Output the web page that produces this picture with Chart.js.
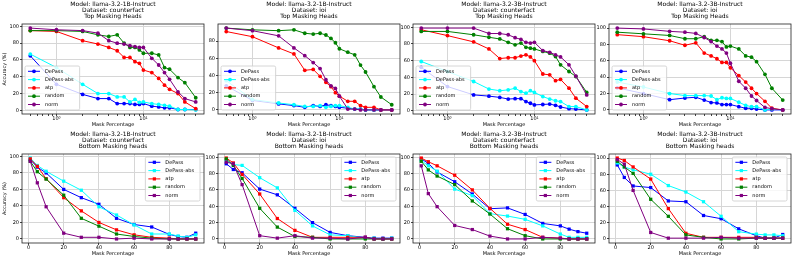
<!DOCTYPE html>
<html>
<head>
<meta charset="utf-8">
<script src="https://cdn.jsdelivr.net/npm/chart.js@4.4.0/dist/chart.umd.min.js"></script>
<style>
  html, body { margin: 0; padding: 0; background: #fff; overflow: hidden; }
  #wrap { position: relative; width: 793px; height: 259px; }
  #wrap canvas { position: absolute; }
</style>
</head>
<body>
<div id="wrap"></div>
<script>
// mask percentages
const topX = [0.5, 1, 2, 3, 4, 5, 6, 7, 8, 9, 10, 12.5, 15, 17.5, 20, 25, 30, 40];
const bottomX = [1, 5, 10, 20, 30, 40, 50, 60, 70, 80, 85, 90, 95];

const methods = ['DePass', 'DePass-abs', 'atp', 'random', 'norm'];
const colors = ['#0000ff', '#00ffff', '#ff0000', '#008000', '#800080'];
const models = ['llama-3.2-1B-Instruct', 'llama-3.2-1B-Instruct', 'llama-3.2-3B-Instruct', 'llama-3.2-3B-Instruct'];
const datasetNames = ['counterfact', 'ioi', 'counterfact', 'ioi'];

const yTicks = [0, 20, 40, 60, 80, 100];
const topTickLabels = { 1: '10\u2070', 10: '10\u00b9' };
const bottomTicks = [0, 20, 40, 60, 80];

// accuracy (%), one row per method (DePass, DePass-abs, atp, random, norm)
const top1bCf = [
  [65, 31, 19, 14, 14, 8, 8, 8, 7, 7, 8, 5, 4, 3, 3, 1, 1, 1],
  [67, 51, 31, 20, 20, 16, 16, 10, 13, 9.5, 10, 8, 7, 6, 5, 1, 1, 0.5],
  [95, 94, 83, 79, 75, 71, 63, 63, 58, 56, 48, 45, 38, 30, 25, 20, 10, 2],
  [95, 95, 94, 90, 88, 90, 80, 75, 75, 72, 68, 68, 66, 51, 49, 39, 33, 15],
  [98, 96, 95, 92, 83, 80, 79, 77, 76, 75, 75, 62, 54, 45, 37, 22, 14, 10]
];
const top1bIoi = [
  [28, 11, 7, 5, 3, 5, 4, 6, 5, 4, 3, 2, 1, 1, 0, 0, 0, 0],
  [34, 12, 8, 6, 4, 4, 5, 3, 4, 5, 5, 3, 1, 1, 0, 0, 0, 0],
  [91, 85, 72, 65, 46, 47, 39, 32, 27, 20, 16, 10, 10, 5, 3, 3, 0, 0],
  [95, 93, 92, 93, 89, 88, 89, 87, 83, 78, 71, 67, 64, 52, 44, 27, 15, 6],
  [95, 92, 86, 72, 63, 55, 48, 35, 28, 25, 16, 1, 1, 0, 0, 0, 0, 0]
];
const top3bCf = [
  [52, 29, 19, 17.5, 16, 14, 14.5, 14.5, 11, 9, 7, 7.5, 8, 6.5, 4.5, 2.5, 2, 1],
  [59, 47, 35, 26, 24, 25, 27, 23, 21, 24, 22, 17, 14, 12, 11, 5, 5, 1],
  [97, 90, 82.5, 74, 62.5, 63.5, 63.5, 65.5, 67, 64.5, 60, 44, 43, 36, 37.5, 27, 15, 5],
  [95, 95, 91, 88, 86, 82, 79, 81, 76, 75, 74, 71, 69, 65, 55, 47, 41, 22],
  [99, 99, 99, 92.5, 92.5, 91, 87.5, 85.5, 82, 81, 82, 72, 70, 67, 64.5, 55, 41.5, 19]
];
const top3bIoi = [
  [27, 20, 12.5, 14.5, 15.5, 12, 9, 8.5, 6.5, 6.5, 6.5, 4, 2, 2, 1, 0, 0, 0],
  [34, 28, 20, 17.5, 17.5, 17.5, 17, 12.5, 15, 14, 14, 9.5, 5.5, 4, 4, 0, 1, 0],
  [92, 89.5, 84.5, 79, 82, 69.5, 66, 62.5, 58, 58, 51.5, 42, 34, 26.5, 20, 10.5, 2, 0],
  [95, 93, 91, 87, 87, 89.5, 85, 85, 83.5, 77, 78, 74.5, 66, 64.5, 59, 43.5, 26.5, 12],
  [100, 99, 96, 95, 93.5, 88.5, 83.5, 78, 74.5, 69.5, 57, 35, 26.5, 17, 11.5, 3, 1.5, 0]
];
const bottom1bCf = [
  [96, 87, 80, 60, 50, 42, 25, 17.5, 14.5, 5.5, 3, 2, 7],
  [98, 89, 82, 70, 59, 39, 29, 17, 6, 6, 3.5, 2, 5],
  [97, 88, 73, 50, 34, 20, 11, 5, 2, 1, 0, 0, 0],
  [94, 81.5, 72.5, 53, 25, 15.5, 6, 3, 1, 0, 0, 0, 0],
  [94, 68, 39, 7, 2, 2, 0, 1, 0, 0, 0, 0, 0]
];
const bottom1bIoi = [
  [92, 85, 81, 61, 54, 37.5, 20, 8, 4, 2, 1, 1, 1],
  [96, 91, 90, 75, 62.5, 35, 16, 5, 4, 1, 1, 0, 1],
  [99, 93, 79, 55, 25, 10.5, 2, 2, 2, 2, 0, 0, 0],
  [98, 90, 74, 37.5, 14.5, 3, 2, 0, 0, 0, 0, 0, 0],
  [94, 92, 66.5, 4, 1, 4, 1, 1, 0, 2, 0, 0, 0]
];
const bottom3bCf = [
  [98, 92.5, 82, 70, 55, 37, 38, 30, 19, 16, 12, 9, 7],
  [96, 89.5, 83, 61, 53, 31, 28, 24, 16, 6, 2, 2, 2],
  [99, 94.5, 89.5, 78, 60, 37.5, 18, 11.5, 2, 1, 0, 0, 0],
  [95, 84.5, 77, 66.5, 46.5, 30.5, 12.5, 4, 0, 0, 0, 0, 0],
  [89.5, 55.5, 39.5, 16.5, 11.5, 3.5, 0, 0, 2, 1, 0, 0, 0]
];
const bottom3bIoi = [
  [91.5, 76, 65.5, 63.5, 47, 46, 29, 25, 12.5, 4, 1, 1, 5.5],
  [94, 89, 85.5, 80, 66, 58, 46, 28, 9, 6, 5, 5, 4],
  [100, 97, 89, 74, 37.5, 7, 2, 2, 2, 2, 1, 1, 1],
  [96, 89, 81, 49, 28, 5, 2, 0, 0, 1, 1, 1, 1],
  [98, 92.5, 60, 8, 1, 1, 1, 2, 1, 1, 1, 1, 1]
];

const topPanels = [top1bCf, top1bIoi, top3bCf, top3bIoi];
const bottomPanels = [bottom1bCf, bottom1bIoi, bottom3bCf, bottom3bIoi];

// layout
const plotLefts = [22, 218, 413, 609];
const plotW = 182;
const axisW = 22;
const rightPad = 4;
const FONT = 'DejaVu Sans';
const gridColor = '#d6d6d6';

Chart.defaults.font.family = FONT;

// frame, 3-line title and matplotlib-like legend
const decor = {
  id: 'decor',
  afterDraw(chart, args, o) {
    const { ctx, chartArea: a } = chart;
    ctx.save();
    ctx.strokeStyle = '#222';
    ctx.lineWidth = 0.8;
    ctx.strokeRect(a.left, a.top, a.right - a.left, a.bottom - a.top);

    ctx.fillStyle = '#000';
    ctx.font = '6px "' + FONT + '"';
    ctx.textAlign = 'center';
    ctx.textBaseline = 'middle';
    const cx = (a.left + a.right) / 2;
    const n = o.title.length;
    for (let i = 0; i < n; i++) {
      ctx.fillText(o.title[i], cx, a.top - 7.6 - (n - 1 - i) * 6.2);
    }

    ctx.font = '5px "' + FONT + '"';
    const items = chart.data.datasets;
    const tw = Math.max(...items.map(d => ctx.measureText(d.label).width));
    const w = 20 + tw + 6, h = 44;
    const x = o.lowerLeft ? a.left + 3 : a.right - 4 - w;
    const y = o.lowerLeft ? a.bottom - 4 - h : a.top + 3;
    ctx.beginPath();
    ctx.roundRect(x, y, w, h, 1.5);
    ctx.fillStyle = 'rgba(255,255,255,0.8)';
    ctx.fill();
    ctx.strokeStyle = '#cccccc';
    ctx.lineWidth = 0.8;
    ctx.stroke();
    ctx.textAlign = 'left';
    items.forEach((d, i) => {
      const yy = y + 5.3 + i * 8.3;
      ctx.strokeStyle = d.borderColor;
      ctx.lineWidth = 1;
      ctx.beginPath();
      ctx.moveTo(x + 3, yy);
      ctx.lineTo(x + 15, yy);
      ctx.stroke();
      ctx.fillStyle = d.borderColor;
      if (d.pointStyle === 'rect') {
        ctx.fillRect(x + 9 - 1.6, yy - 1.6, 3.2, 3.2);
      } else {
        ctx.beginPath();
        ctx.arc(x + 9, yy, 1.9, 0, Math.PI * 2);
        ctx.fill();
      }
      ctx.fillStyle = '#000';
      ctx.fillText(d.label, x + 20, yy);
    });
    ctx.restore();
  }
};

function padRange(lo, hi) {
  const span = hi - lo;
  return [lo - 0.05 * span, hi + 0.05 * span];
}

function addPanel(row, col) {
  const isTop = row === 0;
  const xs = isTop ? topX : bottomX;
  const rows = (isTop ? topPanels : bottomPanels)[col];

  const canvas = document.createElement('canvas');
  canvas.width = axisW + plotW + rightPad;
  canvas.height = 130;
  canvas.style.left = (plotLefts[col] - axisW) + 'px';
  canvas.style.top = (isTop ? 0 : 129) + 'px';
  canvas.style.width = canvas.width + 'px';
  canvas.style.height = canvas.height + 'px';
  document.getElementById('wrap').appendChild(canvas);

  const all = rows.flat();
  const [yMin, yMax] = padRange(Math.min(...all), Math.max(...all));
  let xMin, xMax;
  if (isTop) {
    const [l0, l1] = padRange(Math.log10(Math.min(...xs)), Math.log10(Math.max(...xs)));
    xMin = Math.pow(10, l0);
    xMax = Math.pow(10, l1);
  } else {
    [xMin, xMax] = padRange(Math.min(...xs), Math.max(...xs));
  }

  const datasets = rows.map((vals, i) => ({
    label: methods[i],
    data: xs.map((x, j) => ({ x, y: vals[j] })),
    borderColor: colors[i],
    backgroundColor: colors[i],
    pointBackgroundColor: colors[i],
    borderWidth: 1,
    pointStyle: isTop ? 'circle' : 'rect',
    pointRadius: isTop ? 1.9 : 2.3,
    pointBorderWidth: 0,
    tension: 0,
    order: methods.length - i
  }));

  const tickFont = { size: 5, family: FONT };

  new Chart(canvas, {
    type: 'line',
    data: { datasets },
    plugins: [decor],
    options: {
      responsive: false,
      animation: false,
      devicePixelRatio: 1,
      layout: { padding: { top: isTop ? 24 : 25, right: rightPad, left: 0, bottom: 0 } },
      plugins: {
        legend: { display: false },
        tooltip: { enabled: false },
        decor: {
          title: ['Model: ' + models[col], 'Dataset: ' + datasetNames[col],
                  isTop ? 'Top Masking Heads' : 'Bottom Masking heads'],
          lowerLeft: isTop
        }
      },
      scales: {
        x: {
          type: isTop ? 'logarithmic' : 'linear',
          bounds: 'data',
          min: xMin,
          max: xMax,
          afterFit: s => { s.height = 16; },
          afterBuildTicks: s => {
            let vals;
            if (isTop) {
              vals = [];
              for (let d = -1; d <= 1; d++) {
                for (let m = 1; m <= 9; m++) vals.push(m * Math.pow(10, d));
              }
            } else {
              vals = bottomTicks;
            }
            s.ticks = vals.filter(v => v >= s.min && v <= s.max).map(v => ({ value: v }));
          },
          ticks: {
            autoSkip: false,
            maxRotation: 0,
            padding: 0,
            color: '#000',
            font: tickFont,
            callback: v => isTop ? (topTickLabels[Math.round(v * 1000) / 1000] || '') : String(v)
          },
          grid: {
            color: c => (!isTop || (c.tick && (c.tick.value === 1 || c.tick.value === 10))) ? gridColor : 'rgba(0,0,0,0)',
            tickColor: '#444',
            tickLength: 2,
            lineWidth: 1
          },
          border: { display: false },
          title: { display: true, text: 'Mask Percentage', color: '#000', font: tickFont, padding: { top: 0, bottom: 2 } }
        },
        y: {
          type: 'linear',
          bounds: 'data',
          min: yMin,
          max: yMax,
          afterFit: s => { s.width = axisW; },
          afterBuildTicks: s => {
            s.ticks = yTicks.filter(v => v >= s.min && v <= s.max).map(v => ({ value: v }));
          },
          ticks: { padding: 1, color: '#000', font: tickFont },
          grid: { color: gridColor, tickColor: '#444', tickLength: 2, lineWidth: 1 },
          border: { display: false },
          title: { display: col === 0, text: 'Accuracy (%)', color: '#000', font: tickFont, padding: { top: 2, bottom: 0 } }
        }
      }
    }
  });
}

for (let r = 0; r < 2; r++) {
  for (let c = 0; c < 4; c++) addPanel(r, c);
}
</script>
</body>
</html>
